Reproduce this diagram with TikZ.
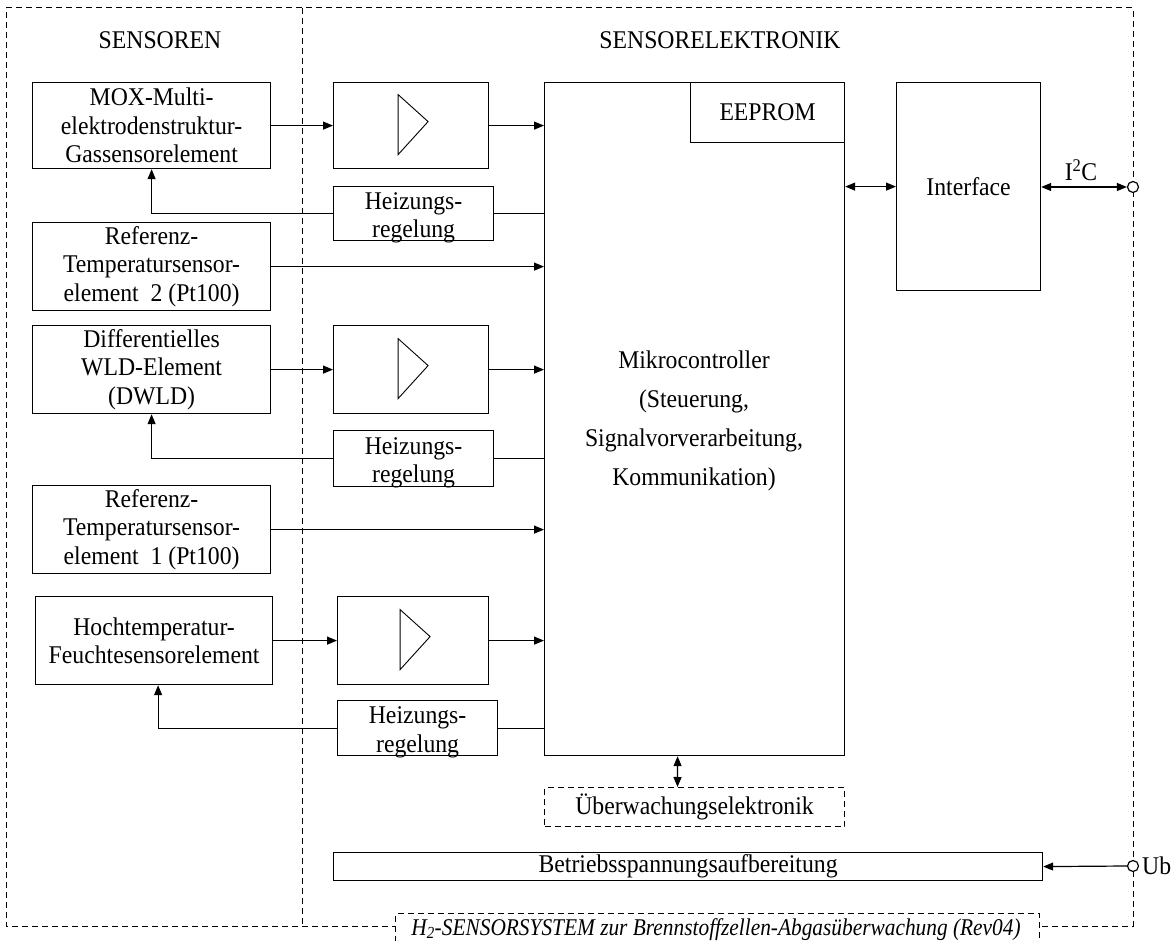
\documentclass[tikz,border=0pt]{standalone}
\usepackage{fontspec}
\setmainfont[FakeStretch=0.93]{Liberation Serif}
\newfontfamily\titlefont[FakeStretch=0.89]{Liberation Serif}
\usetikzlibrary{arrows.meta,calc}
\begin{document}
\begin{tikzpicture}[x=1pt,y=-1pt,
  every node/.style={font=\fontsize{25.5}{28.5}\selectfont},
  box/.style={draw, line width=1.2pt, inner sep=0pt, align=center, anchor=north west},
  dbox/.style={draw, line width=1pt, dash pattern=on 6pt off 4pt, inner sep=0pt, align=center, anchor=north west},
  dsh/.style={line width=1pt, dash pattern=on 6pt off 4pt},
  ln/.style={line width=1.2pt},
  arr/.style={line width=1.2pt, -{Triangle[length=10pt,width=8pt]}},
  arr2/.style={line width=1.2pt, {Triangle[length=10pt,width=8pt]}-{Triangle[length=10pt,width=8pt]}},
  port/.style={draw, circle, line width=1.2pt, fill=white, minimum size=11pt, inner sep=0pt},
  txt/.style={inner sep=0pt, align=center}
]
\useasboundingbox (0,0) rectangle (1171,941);

% frames
\draw[dsh] (6,8) -- (1133,8) -- (1133,926) -- (6,926) -- cycle;
\draw[dsh] (302,8) -- (302,926);

\node[txt] (lsens) at (160,40) {SENSOREN};
\node[txt] (lelek) at (720,40) {SENSORELEKTRONIK};

% sensors
\node[box, minimum width=238, minimum height=86] (mox) at (32,82) {MOX-Multi-\\elektrodenstruktur-\\Gassensorelement};
\node[box, minimum width=238, minimum height=88] (r2) at (32,222) {Referenz-\\Temperatursensor-\\element~ 2 (Pt100)};
\node[box, minimum width=238, minimum height=88] (dw) at (32,325) {Differentielles\\WLD-Element\\(DWLD)};
\node[box, minimum width=238, minimum height=88] (r1) at (32,485) {Referenz-\\Temperatursensor-\\element~ 1 (Pt100)};
\node[box, minimum width=237, minimum height=88] (ho) at (35,596) {Hochtemperatur-\\Feuchtesensorelement};

% amplifiers
\node[box, minimum width=155, minimum height=86] (a1) at (333,82) {};
\node[box, minimum width=155, minimum height=88] (a2) at (333,325) {};
\node[box, minimum width=151, minimum height=88] (a3) at (337,596) {};
\foreach \a in {a1,a2,a3}{
  \draw[line width=0.9pt] ([shift={(-13,-31)}]\a.center) -- ([shift={(17,-4)}]\a.center) -- ([shift={(-13,29)}]\a.center) -- cycle;
}

% heating control
\node[box, minimum width=160, minimum height=54] (h1) at (333,186) {};
\node[box, minimum width=160, minimum height=56] (h2) at (333,430) {};
\node[box, minimum width=160, minimum height=55] (h3) at (337,700) {};
\foreach \h in {h1,h2,h3}{
  \node[txt] at ([yshift=-4pt]\h.center) {Heizungs-\\regelung};
}

% microcontroller
\node[box, minimum width=300, minimum height=673] (mc) at (544,82) {};
\node[box, minimum width=154, minimum height=60] (ee) at (690,82) {EEPROM};
\node[txt, font=\fontsize{25.5}{39}\selectfont] (mctxt) at (694,421) {Mikrocontroller\\(Steuerung,\\Signalvorverarbeitung,\\Kommunikation)};

% interface
\node[box, minimum width=144, minimum height=208] (ifc) at (896,82) {Interface};
\node[port] (p1) at (1133,187) {};
\node[txt] (i2c) at (1081,170) {I\textsuperscript{2}C};

% monitoring, power
\node[dbox, minimum width=300, minimum height=39] (ue) at (544,787) {\"Uberwachungselektronik};
\node[box, minimum width=709, minimum height=28] (bsa) at (333,852) {Betriebsspannungsaufbereitung};
\node[port] (p2) at (1133,866) {};
\node[txt, anchor=west] (ub) at (1142,866) {Ub};

% title
\node[dbox, fill=white, minimum width=644, minimum height=50] (title) at (395,913) {};
\node[txt, anchor=base, font=\fontsize{24}{28}\titlefont\itshape] (ttxt) at (716,935) {H\textsubscript{2}-SENSORSYSTEM zur Brennstoffzellen-Abgas\"uberwachung (Rev04)};

% connectors
\draw[arr] (mox.east) -- (a1.west);
\draw[arr] (a1.east) -- (a1.east -| mc.west);
\draw[ln] (h1.east) -- (h1.east -| mc.west);
\draw[arr] (h1.west) -| (mox.south);
\draw[arr] (r2.east) -- (r2.east -| mc.west);
\draw[arr] (dw.east) -- (a2.west);
\draw[arr] (a2.east) -- (a2.east -| mc.west);
\draw[ln] (h2.east) -- (h2.east -| mc.west);
\draw[arr] (h2.west) -| (dw.south);
\draw[arr] (r1.east) -- (r1.east -| mc.west);
\draw[arr] (ho.east) -- (a3.west);
\draw[arr] (a3.east) -- (a3.east -| mc.west);
\draw[ln] (h3.east) -- (h3.east -| mc.west);
\draw[arr] (h3.west) -| ([xshift=4pt]ho.south);
\draw[arr2] (ifc.west -| mc.east) -- (ifc.west);
\draw[arr2] (ifc.east |- p1) -- (p1.west);
\draw[arr2] ([xshift=-17pt]mc.south) -- ([xshift=-17pt]ue.north);
\draw[arr] (p2.west) -- (bsa.east);
\end{tikzpicture}
\end{document}
